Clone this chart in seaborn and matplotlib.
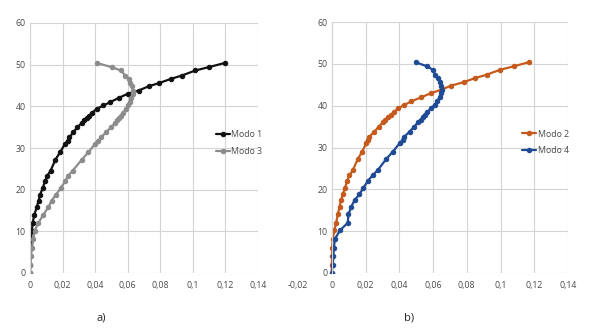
import numpy as np
import pandas as pd
import matplotlib
matplotlib.use("Agg")
import matplotlib.pyplot as plt
import seaborn as sns

# Alturas (m) comuns a todos os modos
alturas = [0, 2, 4, 6, 8.2, 10.2, 12, 14, 15.8, 17.4, 18.8, 20.4, 22, 23.4, 24.6,
           27.2, 29, 31, 31.8, 32.6, 33.8, 35, 36, 36.6, 37.2, 37.8, 38.4, 39.4,
           40.2, 41, 42, 43, 43.8, 44.8, 45.6, 46.6, 47.4, 48.6, 49.4, 50.4]

modo1 = [0, 0, 0, 0.0004, 0.0006, 0.0012, 0.0016, 0.0027, 0.0041, 0.0053, 0.0062,
         0.0078, 0.0092, 0.0107, 0.0127, 0.0156, 0.0185, 0.0215, 0.0232, 0.0242,
         0.0267, 0.0291, 0.0318, 0.0332, 0.0349, 0.0365, 0.0379, 0.041, 0.0451,
         0.0492, 0.0544, 0.0599, 0.0667, 0.0728, 0.0794, 0.0866, 0.0933, 0.1015,
         0.1097, 0.1195]

modo3 = [0, 0.0003, 0.0006, 0.0012, 0.0021, 0.0029, 0.0051, 0.0082, 0.0113, 0.0133,
         0.016, 0.0189, 0.0215, 0.0236, 0.0263, 0.0318, 0.0359, 0.04, 0.042, 0.0437,
         0.0468, 0.0498, 0.0523, 0.0537, 0.0548, 0.0558, 0.057, 0.0589, 0.0601,
         0.0611, 0.0622, 0.063, 0.0632, 0.0626, 0.0615, 0.0605, 0.0585, 0.0558,
         0.0503, 0.041]

modo2 = [0, 0, 0.0002, 0.0002, 0.0006, 0.0016, 0.0026, 0.0036, 0.0046, 0.0055,
         0.0065, 0.0079, 0.0091, 0.0105, 0.0125, 0.0154, 0.018, 0.0204, 0.0214,
         0.0223, 0.0253, 0.0279, 0.0302, 0.0318, 0.0332, 0.0352, 0.0366, 0.0395,
         0.0431, 0.047, 0.053, 0.0589, 0.0648, 0.0708, 0.0781, 0.085, 0.0918,
         0.0999, 0.1078, 0.1168]

modo4 = [0, 0.0006, 0.001, 0.0012, 0.002, 0.0049, 0.0095, 0.0099, 0.0115, 0.0135,
         0.0164, 0.0188, 0.0214, 0.0243, 0.0273, 0.0322, 0.0362, 0.0402, 0.0421,
         0.0431, 0.0461, 0.049, 0.051, 0.0526, 0.054, 0.055, 0.0564, 0.059, 0.0609,
         0.0625, 0.0639, 0.0649, 0.0653, 0.0649, 0.0639, 0.0629, 0.0613, 0.0599,
         0.0564, 0.0497]

xticks_a = [0, 0.02, 0.04, 0.06, 0.08, 0.1, 0.12, 0.14]
xticks_b = [-0.02, 0, 0.02, 0.04, 0.06, 0.08, 0.1, 0.12, 0.14]
yticks = [0, 10, 20, 30, 40, 50, 60]

sns.set_style("white")
plt.rcParams["font.family"] = ["Open Sans", "DejaVu Sans"]

fig = plt.figure(figsize=(5.89, 3.29), dpi=100)
ax_a = fig.add_axes([30 / 589, 56 / 329, 228 / 589, 250 / 329])
ax_b = fig.add_axes([298 / 589, 56 / 329, 270 / 589, 251 / 329])

grid_color = "#d4d4d4"
tick_color = "#4a4a4a"


def fmt(v):
    s = f"{v:g}"
    return s.replace(".", ",")


def painel(ax, series, xticks, legend_x):
    for nome, xs, cor in series:
        df = pd.DataFrame({"x": xs, "y": alturas})
        sns.lineplot(data=df, x="x", y="y", ax=ax, sort=False, estimator=None,
                     color=cor, lw=1.6, marker="o", markersize=3.2,
                     markeredgecolor=cor, label=nome)
    ax.set_xlim(xticks[0], 0.14)
    ax.set_ylim(0, 60)
    ax.hlines(yticks, 0, 0.14, color=grid_color, lw=0.8, zorder=0)
    ax.vlines([t for t in xticks if t >= 0], 0, 60, color=grid_color, lw=0.8, zorder=0)
    for s in ["top", "right", "bottom"]:
        ax.spines[s].set_visible(False)
    ax.spines["left"].set_position(("data", 0))
    ax.spines["left"].set_color(grid_color)
    ax.spines["left"].set_linewidth(0.8)
    ax.set_xticks(xticks)
    ax.set_xticklabels([fmt(t) for t in xticks])
    ax.set_yticks(yticks)
    ax.set_yticklabels([str(t) for t in yticks])
    ax.tick_params(length=0, labelsize=6.3, colors=tick_color, pad=3)
    ax.tick_params(axis="x", pad=6)
    ax.set_xlabel("")
    ax.set_ylabel("")
    ax.legend(loc="center left", bbox_to_anchor=(legend_x, 0.52), frameon=False,
              fontsize=6.3, handlelength=1.6, handletextpad=0.2, labelspacing=0.9,
              labelcolor=tick_color)


painel(ax_a, [("Modo 1", modo1, "#111111"), ("Modo 3", modo3, "#8c8c8c")],
       xticks_a, 0.78)
painel(ax_b, [("Modo 2", modo2, "#c55a1c"), ("Modo 4", modo4, "#1f4a94")],
       xticks_b, 0.80)

fig.text(101 / 589, 1 - 318 / 329, "a)", fontsize=8, ha="center", va="center")
fig.text(409 / 589, 1 - 318 / 329, "b)", fontsize=8, ha="center", va="center")

fig.savefig("out.png", dpi=100, facecolor="white")
